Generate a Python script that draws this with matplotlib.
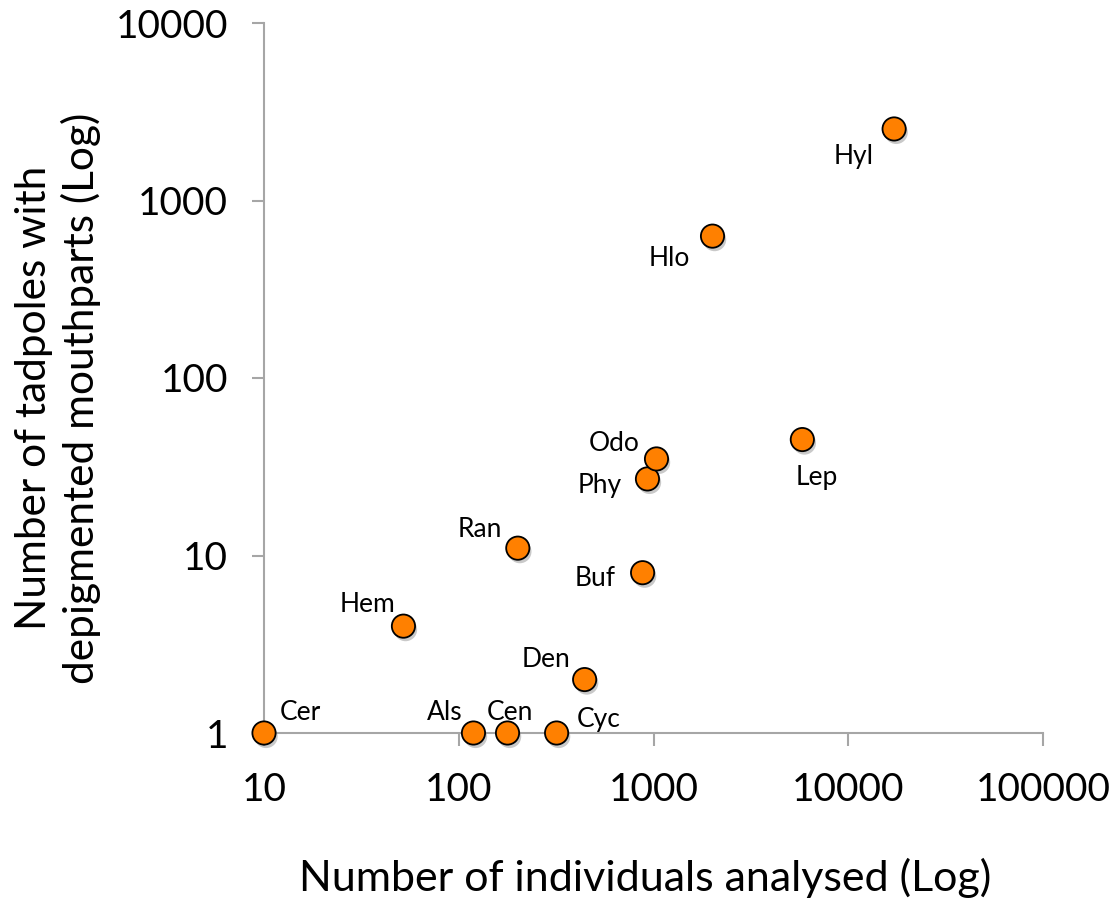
import numpy as np
import matplotlib
matplotlib.use('Agg')
import matplotlib.pyplot as plt
import matplotlib.patheffects as pe
from matplotlib.ticker import FixedLocator, FixedFormatter, NullLocator

plt.rcParams['font.family'] = ['Lato', 'DejaVu Sans']

# 数据
labels = ['Cer', 'Als', 'Cen', 'Cyc', 'Den', 'Hem', 'Ran', 'Buf',
          'Phy', 'Odo', 'Lep', 'Hlo', 'Hyl']
n_individuals = [10, 119, 178, 318, 443, 52, 201, 879, 931, 1036, 5810, 2009, 17200]
n_depigmented = [1, 1, 1, 1, 2, 4, 11, 8, 27, 35, 45, 630, 2530]

# 标签偏移（像素）与对齐方式
offsets = {
    'Cer': (16, 21, 'left'), 'Als': (-11, 21, 'right'), 'Cen': (2, 21, 'center'),
    'Cyc': (20, 13, 'left'), 'Den': (-14, 20, 'right'), 'Hem': (-8, 22, 'right'),
    'Ran': (-16, 19, 'right'), 'Buf': (-27, -6, 'right'), 'Phy': (-26, -7, 'right'),
    'Odo': (-17, 15, 'right'), 'Lep': (14, -38, 'center'), 'Hlo': (-23, -22, 'right'),
    'Hyl': (-20, -28, 'right'),
}

xticks = [10, 100, 1000, 10000, 100000]
yticks = [1, 10, 100, 1000, 10000]

fig = plt.figure(figsize=(11.11, 9.02), dpi=100)
ax = fig.add_axes([264 / 1111, 1 - 733 / 902, (1043 - 264) / 1111, (733 - 23) / 902])
ax.set_xscale('log')
ax.set_yscale('log')
ax.set_xlim(10, 100000)
ax.set_ylim(1, 10000)

ax.scatter(n_individuals, n_depigmented, s=280, c='#ff8000', edgecolors='black',
           linewidths=1.3, zorder=5, clip_on=False,
           path_effects=[pe.SimplePatchShadow(offset=(1.5, -2.5), shadow_rgbFace='#888888', alpha=0.45),
                         pe.Normal()])

for lab, x, y in zip(labels, n_individuals, n_depigmented):
    dx, dy, ha = offsets[lab]
    ax.annotate(lab, (x, y), xytext=(dx, dy), textcoords='offset pixels',
                ha=ha, va='center', fontsize=19, color='black', zorder=6)

for side in ['top', 'right']:
    ax.spines[side].set_visible(False)
for side in ['left', 'bottom']:
    ax.spines[side].set_color('#a6a6a6')
    ax.spines[side].set_linewidth(1.5)

ax.xaxis.set_major_locator(FixedLocator(xticks))
ax.xaxis.set_major_formatter(FixedFormatter([str(v) for v in xticks]))
ax.yaxis.set_major_locator(FixedLocator(yticks))
ax.yaxis.set_major_formatter(FixedFormatter([str(v) for v in yticks]))
ax.xaxis.set_minor_locator(NullLocator())
ax.yaxis.set_minor_locator(NullLocator())
ax.tick_params(axis='both', direction='out', length=9, width=1.5, color='#a6a6a6',
               labelsize=28)
ax.tick_params(axis='x', pad=19)
ax.tick_params(axis='y', pad=17)

fig.text(645 / 1111, 1 - 878 / 902, 'Number of individuals analysed (Log)',
         ha='center', va='center', fontsize=31)
fig.text(58 / 1111, 1 - 398 / 902, 'Number of tadpoles with\ndepigmented mouthparts (Log)',
         ha='center', va='center', rotation=90, fontsize=30.5, multialignment='center',
         linespacing=1.25)

fig.savefig('out.png', dpi=100)
